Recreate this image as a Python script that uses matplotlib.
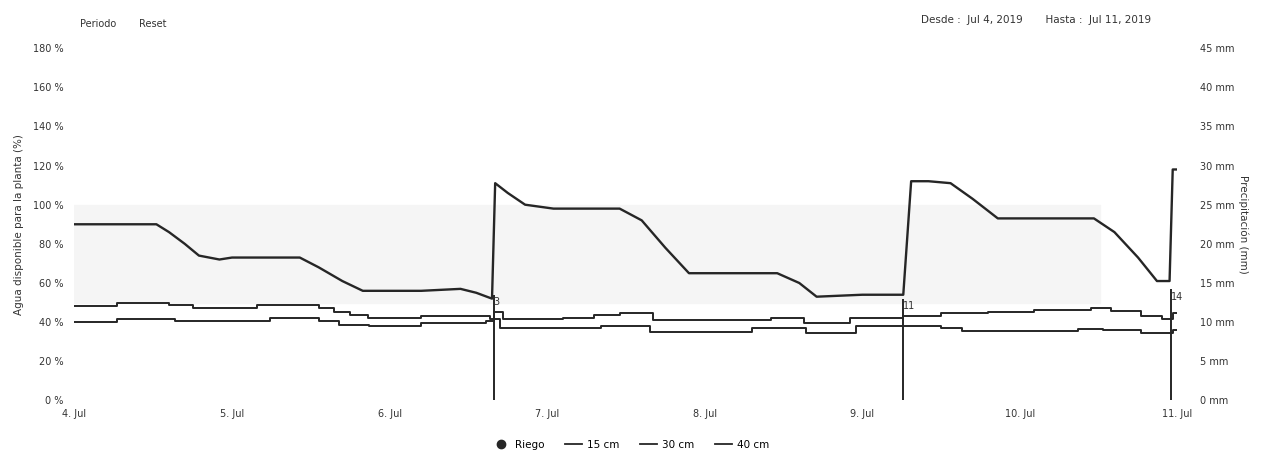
import pandas as pd
import matplotlib
matplotlib.use('Agg')
import matplotlib.pyplot as plt
from matplotlib.lines import Line2D

plt.rcParams['font.family'] = ['DejaVu Sans']
plt.rcParams['font.size'] = 7

# times are given as "day of July" with fractional hours
t_15 = [4.0, 4.52, 4.60, 4.70, 4.79, 4.92, 5.00, 5.43, 5.55, 5.70, 5.83, 6.20, 6.45, 6.55, 6.65,
        6.67, 6.75, 6.86, 7.04, 7.30, 7.46, 7.60, 7.75, 7.90, 8.20, 8.46, 8.60, 8.71, 9.00, 9.26,
        9.31, 9.42, 9.56, 9.70, 9.86, 10.10, 10.47, 10.60, 10.75, 10.87, 10.95, 10.97, 11.03]
v_15 = [90, 90, 86, 80, 74, 72, 73, 73, 68, 61, 56, 56, 57, 55, 52,
        111, 106, 100, 98, 98, 98, 92, 78, 65, 65, 65, 60, 53, 54, 54,
        112, 112, 111, 103, 93, 93, 93, 86, 73, 61, 61, 118, 118]

t_30 = [4.0, 4.27, 4.60, 4.75, 5.16, 5.55, 5.65, 5.75, 5.86, 6.20, 6.64, 6.66, 6.72,
        7.10, 7.30, 7.46, 7.67, 8.42, 8.63, 8.92, 9.26, 9.50, 9.80, 10.09, 10.45, 10.58,
        10.77, 10.90, 10.97, 11.03]
v_30 = [48, 49.7, 49, 47, 49, 47, 45, 43.5, 42, 43, 41.5, 45, 41.5,
        42, 43.5, 44.6, 41, 42, 39.5, 42, 43, 44.6, 45, 46, 47, 45.6,
        43, 41.5, 44.6, 44.6]

t_40 = [4.0, 4.27, 4.64, 5.24, 5.55, 5.68, 5.87, 6.20, 6.61, 6.66, 6.70, 7.34, 7.65,
        8.30, 8.64, 8.96, 9.50, 9.63, 10.37, 10.53, 10.77, 10.97, 11.03]
v_40 = [40, 41.5, 40.5, 42, 40.5, 38.5, 38, 39.5, 40.5, 41.5, 37, 38, 35,
        37, 34.5, 38, 37, 35.5, 36.5, 36, 34.5, 36, 36]

riego_t = [6.66, 9.26, 10.96]
riego_mm = [13.5, 13.0, 14.2]
riego_lbl = ['3', '11', '14']

yticks_pct = [0, 20, 40, 60, 80, 100, 120, 140, 160, 180]
yticks_mm = [0, 5, 10, 15, 20, 25, 30, 35, 40, 45]
xtick_days = [4, 5, 6, 7, 8, 9, 10, 11]


def to_dt(days):
    return pd.Timestamp('2019-07-01') + pd.to_timedelta([d - 1 for d in days], unit='D')


fig = plt.figure(figsize=(12.62, 4.54), dpi=100)
ax = fig.add_axes([0.059, 0.118, 0.874, 0.776])
ax2 = ax.twinx()

line_col = '#262626'
ax.axhspan(50, 100, xmin=0, xmax=0.93, color='#f5f5f5', zorder=0)
ax.plot(to_dt(t_15), v_15, color=line_col, lw=1.7, zorder=3)
ax.plot(to_dt(t_30), v_30, color=line_col, lw=1.4, zorder=3, drawstyle='steps-post')
ax.plot(to_dt(t_40), v_40, color=line_col, lw=1.4, zorder=3, drawstyle='steps-post')

ax2.vlines(to_dt(riego_t), 0, riego_mm, color=line_col, lw=1.4)
for x, h, s in zip(to_dt(riego_t), riego_mm, riego_lbl):
    ax2.text(x, h - 0.3, s, ha='left', va='top', fontsize=7, color='#333333')

ax.set_ylim(0, 180)
ax2.set_ylim(0, 45)
ax.set_xlim(to_dt([4.0])[0], to_dt([11.0])[0])
ax.set_yticks(yticks_pct)
ax.set_yticklabels([f'{v} %' for v in yticks_pct])
ax2.set_yticks(yticks_mm)
ax2.set_yticklabels([f'{v} mm' for v in yticks_mm])
ax.set_xticks(to_dt(xtick_days))
ax.set_xticklabels([f'{d}. Jul' for d in xtick_days])

for a in (ax, ax2):
    for sp in a.spines.values():
        sp.set_visible(False)
    a.tick_params(length=0, colors='#333333', labelsize=7)
ax.tick_params(axis='y', pad=8)
ax2.tick_params(axis='y', pad=16)
ax.tick_params(axis='x', pad=6)

ax.set_ylabel('Agua disponible para la planta (%)', fontsize=7.5, color='#333333', labelpad=6)
ax2.set_ylabel('Precipitación (mm)', fontsize=7.5, color='#333333', rotation=-90, labelpad=10)

fig.text(0.063, 0.94, 'Periodo', fontsize=7, color='#333333')
fig.text(0.11, 0.94, 'Reset', fontsize=7, color='#333333')
fig.text(0.73, 0.95, 'Desde :  Jul 4, 2019       Hasta :  Jul 11, 2019', fontsize=7.5, color='#333333')

handles = [Line2D([], [], marker='o', ls='none', color=line_col, markersize=6),
           Line2D([], [], color=line_col, lw=1.3),
           Line2D([], [], color=line_col, lw=1.3),
           Line2D([], [], color=line_col, lw=1.3)]
fig.legend(handles, ['Riego', '15 cm', '30 cm', '40 cm'], loc='lower center', ncol=4,
           bbox_to_anchor=(0.5, -0.012), frameon=False, fontsize=7.5, handlelength=1.6,
           columnspacing=2.0, handletextpad=0.5)

fig.savefig('out.png', dpi=100)
